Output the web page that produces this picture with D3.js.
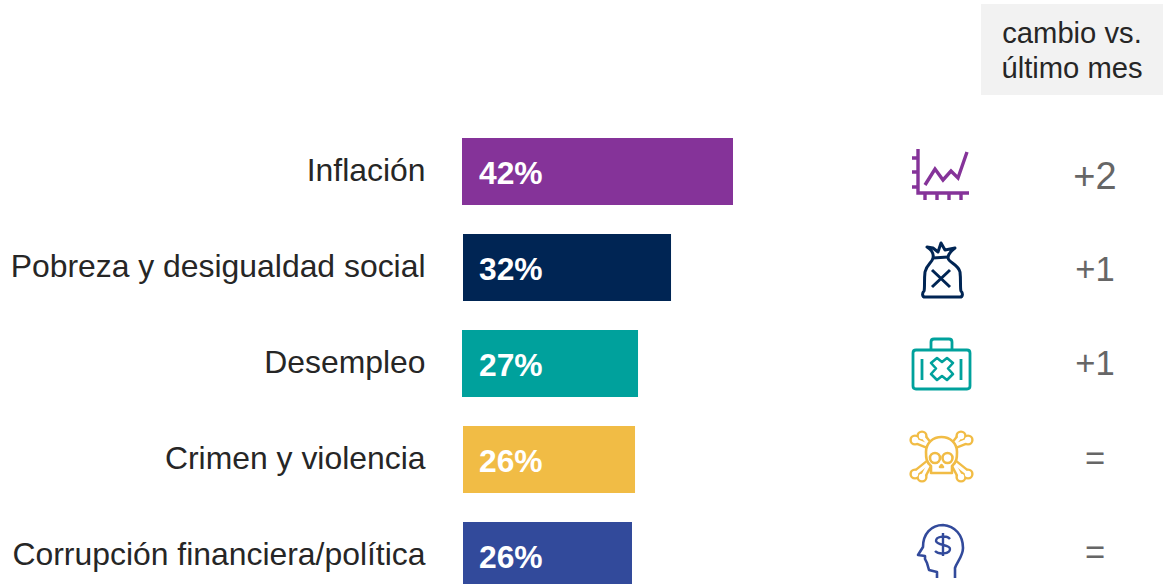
<!DOCTYPE html>
<html><head><meta charset="utf-8">
<script src="https://cdn.jsdelivr.net/npm/d3@7"></script>
<style>html,body{margin:0;padding:0;background:#fff;overflow:hidden}svg{display:block}text{font-family:"Liberation Sans",Arial,sans-serif}</style>
</head><body><div id="c"></div>
<script>
const categories = ["Inflación","Pobreza y desigualdad social","Desempleo","Crimen y violencia","Corrupción financiera/política"];
const barValues = [42,32.24,27.28,26.66,26.19];
const valueLabels = ["42%","32%","27%","26%","26%"];
const changes = ["+2","+1","+1","=","="];
const colors = ["#853399","#002554","#00A19C","#F1BC45","#324A9B"];
const headerLines = ["cambio vs.","último mes"];
const W=1163,H=584;
const svg=d3.select("#c").append("svg").attr("width",W).attr("height",H);
const x=d3.scaleLinear().domain([0,42]).range([0,271]);
const y=d3.scaleBand().domain(categories).range([138,589]).paddingInner(29/96).paddingOuter(0).align(0);
const barStart=[462,463,462,463,463];
svg.append("rect").attr("x",981).attr("y",4).attr("width",182).attr("height",91).attr("fill","#F2F2F2");
svg.selectAll("text.h").data(headerLines).join("text").attr("class","h").attr("x",1072).attr("y",(d,i)=>42.5+i*35)
 .attr("text-anchor","middle").attr("font-size",29.2).attr("fill","#262626").text(d=>d);
svg.selectAll("rect.b").data(categories).join("rect").attr("class","b").attr("x",(d,i)=>barStart[i]).attr("y",d=>y(d)).attr("height",67)
 .attr("width",(d,i)=>x(barValues[i])).attr("fill",(d,i)=>colors[i]);
svg.selectAll("text.c").data(categories).join("text").attr("class","c").attr("x",425.5).attr("y",d=>y(d)+42.7)
 .attr("text-anchor","end").attr("font-size",31.9).attr("fill","#262626").text(d=>d);
svg.selectAll("text.v").data(categories).join("text").attr("class","v").attr("x",479).attr("y",d=>y(d)+46)
 .attr("font-size",31.8).attr("font-weight",700).attr("fill","#fff").text((d,i)=>valueLabels[i]);
svg.selectAll("text.d").data(categories).join("text").attr("class","d").attr("x",1095).attr("y",(d,i)=>y(d)+[51,47,45,44,42][i])
 .attr("text-anchor","middle").attr("font-size",(d,i)=>i==0?38:34.6).attr("fill","#666666").text((d,i)=>changes[i]);
const bones=[[922,436,930,446],[915,440,930,446],[961,436,953,446],[968,440,953,446],[915,474,930,462],[922,477,930,462],[968,474,953,462],[961,477,953,462]];
const icons=[
 g=>{g.attr("stroke-width",3.4);
  g.append("path").attr("d","M918 149V193H969M912 158H918M912 172H918M912 187H918M925 193V200M937 193V200M949 193V200M961 193V200");
  g.append("path").attr("d","M925 185L935 169L943 180L951 171L958 178L967 152");},
 g=>{g.attr("stroke-width",3).attr("stroke-linejoin","round");
  g.append("path").attr("d","M933 258C934 253 932 250 927 247L933 248L938 252L941 243L945 250L955 248C951 251 948 254 948 258C949 263 958 264 960 272C961 280 960 288 961 291C963 293 963 297 960 297H925C922 297 922 293 924 291C925 288 924 280 925 272C927 264 932 263 933 258Z");
  g.append("path").attr("d","M933 258L948 257M932 270L950 287M950 270L932 287");},
 g=>{g.attr("stroke-width",2.8).attr("stroke-linejoin","round");
  g.append("path").attr("d","M916 350H967Q970 350 970 353V386Q970 389 967 389H916Q913 389 913 386V353Q913 350 916 350Z");
  g.append("path").attr("d","M931 349V342Q931 339 934 339H949Q952 339 952 342V349M922 359V380M961 359V380");
  g.append("path").attr("d","M937 358L942 362L947 358L953 363L948 368.5L953 374L947 380L942 376L937 380L931 374L936 368.5L931 363Z").attr("stroke-width",2.6);},
 g=>{g.attr("stroke-width",2.6).attr("stroke-linejoin","round");
  const c=colors[3];
  bones.forEach(b=>{g.append("circle").attr("cx",b[0]).attr("cy",b[1]).attr("r",5.6).attr("fill",c).attr("stroke","none");
   g.append("line").attr("x1",b[0]).attr("y1",b[1]).attr("x2",b[2]).attr("y2",b[3]).attr("stroke-width",8);});
  bones.forEach(b=>{g.append("circle").attr("cx",b[0]).attr("cy",b[1]).attr("r",3.2).attr("fill","#fff").attr("stroke","none");
   g.append("line").attr("x1",b[0]).attr("y1",b[1]).attr("x2",b[2]).attr("y2",b[3]).attr("stroke-width",3.2).attr("stroke","#fff");});
  g.append("path").attr("fill","#fff").attr("d","M931 473V466C926 462 926 457 926 452C926 443 933 437 941.5 437C950 437 957 443 957 452C957 457 957 462 952 466V473Z");
  g.append("circle").attr("cx",935).attr("cy",458).attr("r",5);
  g.append("circle").attr("cx",947.5).attr("cy",458).attr("r",5);
  g.append("path").attr("d","M940 467L941.5 465L943 467Z");},
 g=>{g.attr("stroke-width",2.6).attr("stroke-linejoin","round");
  g.append("path").attr("d","M937 578V572L929 570L927 563L925 559L925 556L918 555L923 547C923 534 931 525 943 525C955 526 963 535 963 548C963 556 957 562 955 568V578");
  g.append("path").attr("d","M950 539C947 535 936 536 936 541C937 546 950 544 950 549C950 554 939 555 935 551M943 533V556").attr("stroke-width",2.4);}
];
icons.forEach((f,i)=>{const g=svg.append("g").attr("fill","none").attr("stroke",colors[i]);f(g);});
</script></body></html>
